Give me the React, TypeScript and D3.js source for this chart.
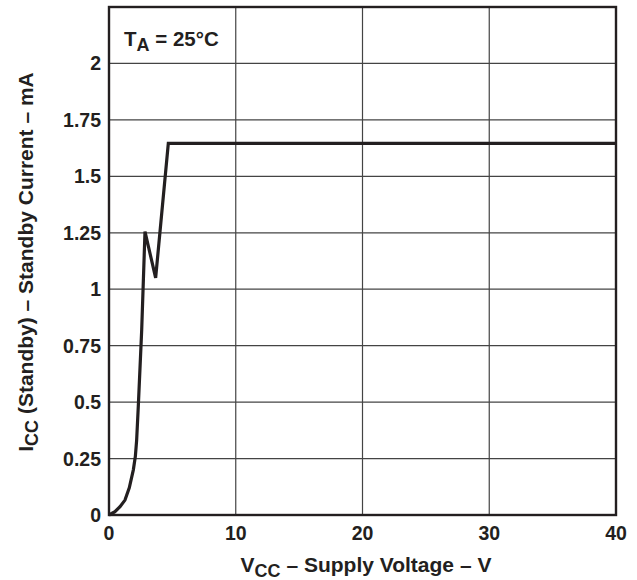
import React from "react";
import * as d3 from "d3";

const voltage = [0, 0.47, 0.87, 1.26, 1.6, 1.92, 2.08, 2.18, 2.31, 2.58, 2.84, 3.68, 4.68, 40];
const current = [0, 0.015, 0.037, 0.066, 0.12, 0.2, 0.26, 0.33, 0.48, 0.82, 1.255, 1.05, 1.646, 1.646];
const xTicks = [0, 10, 20, 30, 40];
const yTicks = [0, 0.25, 0.5, 0.75, 1, 1.25, 1.5, 1.75, 2];
const yTickLabels = ["0", "0.25", "0.5", "0.75", "1", "1.25", "1.5", "1.75", "2"];

const W = 637, H = 580;
const left = 109, right = 616, top = 7, bottom = 515;
const FONT = "'Liberation Sans', Arial, sans-serif";

export default function App() {
  const x = d3.scaleLinear().domain([0, 40]).range([left, right]);
  const y = d3.scaleLinear().domain([0, 2.25]).range([bottom, top]);
  const pts: [number, number][] = voltage.map((v, i) => [v, current[i]]);
  const line = d3.line<[number, number]>().x(d => x(d[0])).y(d => y(d[1])).curve(d3.curveLinear);
  const ink = "#231f20";
  return (
    <svg width={W} height={H} style={{ position: "absolute", left: 0, top: 0, background: "#fff" }} fontFamily={FONT} fontWeight="bold">
      {xTicks.slice(1, -1).map(t => (
        <line key={"gx" + t} x1={x(t)} x2={x(t)} y1={top} y2={bottom} stroke="#444" strokeWidth={1.2} />
      ))}
      {yTicks.slice(1).map(t => (
        <line key={"gy" + t} x1={left} x2={right} y1={y(t)} y2={y(t)} stroke="#444" strokeWidth={1.2} />
      ))}
      <path d={line(pts) || ""} fill="none" stroke={ink} strokeWidth={3.2} strokeLinejoin="miter" />
      <rect x={left} y={top} width={right - left} height={bottom - top} fill="none" stroke={ink} strokeWidth={2.4} />
      {xTicks.map(t => (
        <text key={"tx" + t} x={x(t)} y={540} textAnchor="middle" fontSize={19.5} fill={ink}>{t}</text>
      ))}
      {yTicks.map((t, i) => (
        <text key={"ty" + t} x={101} y={y(t) + 7} textAnchor="end" fontSize={19.5} fill={ink}>{yTickLabels[i]}</text>
      ))}
      <text x={124} y={45.5} fontSize={20.5} fill={ink}>
        T<tspan fontSize={18} dy={5}>A</tspan><tspan dy={-5}> = 25°C</tspan>
      </text>
      <text x={366} y={572} textAnchor="middle" fontSize={21} fill={ink}>
        V<tspan fontSize={18} dy={5}>CC</tspan><tspan dy={-5}> – Supply Voltage – V</tspan>
      </text>
      <text transform={`translate(33, 262) rotate(-90)`} textAnchor="middle" fontSize={21} fill={ink}>
        I<tspan fontSize={18} dy={5}>CC</tspan><tspan dy={-5}> (Standby) – Standby Current – mA</tspan>
      </text>
    </svg>
  );
}
